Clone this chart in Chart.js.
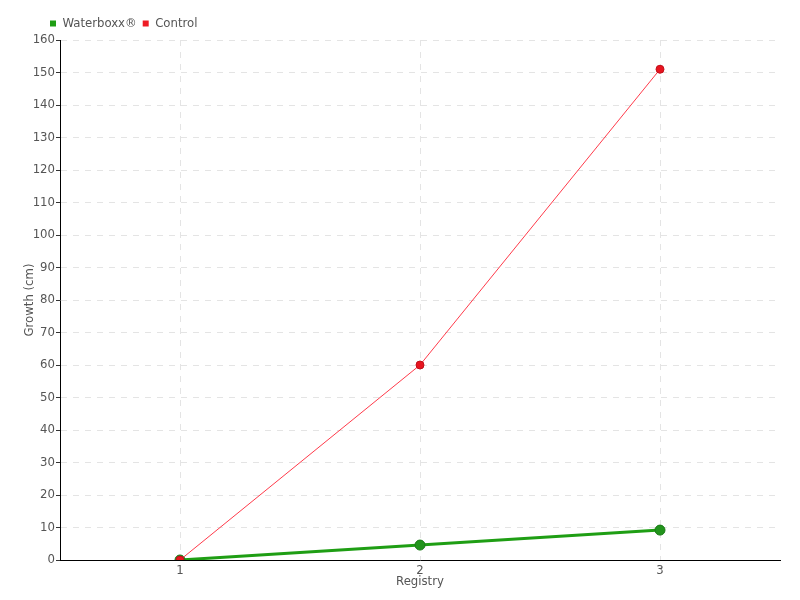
<!DOCTYPE html>
<html><head><meta charset="utf-8">
<script src="https://cdn.jsdelivr.net/npm/chart.js@4/dist/chart.umd.min.js"></script>
<style>html,body{margin:0;padding:0;background:#fff}#wrap{width:800px;height:600px}</style>
</head><body><div id="wrap"><canvas id="c" width="800" height="600"></canvas></div>
<script>
const categories = ["1", "2", "3"];
const waterboxx = [0, 4.6, 9.2];
const control = [0, 60, 151];
const yTicksMax = 160;
const yTitle = "Growth (cm)";
const xTitle = "Registry";

const FONT = "'DejaVu Sans Condensed', 'DejaVu Sans', sans-serif";
const F = { family: FONT, size: 13, weight: 'normal' };
const legendShift = {
  id: 'legendShift',
  afterLayout(chart) { if (chart.legend) { chart.legend.left = 44; } }
};

new Chart(document.getElementById('c'), {
  type: 'line',
  data: {
    labels: categories,
    datasets: [
      { label: 'Waterboxx®', data: waterboxx, borderColor: '#1f9e14', backgroundColor: '#1f9e14',
        borderWidth: 3, pointRadius: 5, pointBackgroundColor: '#22941c', pointBorderColor: '#1a7a16',
        pointBorderWidth: 1, tension: 0, order: 2 },
      { label: 'Control', data: control, borderColor: '#ff3a4a', backgroundColor: '#ee1c25',
        borderWidth: 1, pointRadius: 4, pointBackgroundColor: '#e8141f', pointBorderColor: '#c0101a',
        pointBorderWidth: 1, tension: 0, order: 1 }
    ]
  },
  plugins: [legendShift],
  options: {
    responsive: false, animation: false,
    layout: { padding: { top: 11, right: 20, left: 0, bottom: 0 } },
    plugins: {
      legend: { position: 'top', align: 'start',
        labels: { boxWidth: 6, boxHeight: 6, padding: 6, color: '#555', font: F,
          sort: (a, b) => a.datasetIndex - b.datasetIndex,
          generateLabels(chart) {
            const items = Chart.defaults.plugins.legend.labels.generateLabels(chart);
            items.forEach(it => { it.lineWidth = 0; it.strokeStyle = it.fillStyle; });
            return items;
          } } },
      tooltip: { enabled: false }
    },
    scales: {
      x: {
        offset: true,
        grid: { color: '#e4e4e4', drawTicks: false, offset: false },
        border: { color: '#000', width: 1, dash: [6, 6] },
        ticks: { color: '#555', padding: 3, font: F },
        title: { display: true, text: xTitle, color: '#555', font: F, padding: { top: 0, bottom: 11 } },
        afterFit(s) { s.height = 40; }
      },
      y: {
        min: 0, max: yTicksMax,
        grid: { color: '#e4e4e4', tickLength: 4, tickColor: '#333', tickBorderDash: [], tickWidth: 1 },
        border: { color: '#000', width: 1, dash: [6, 6] },
        ticks: { stepSize: 10, color: '#555', padding: 1, font: F },
        title: { display: true, text: yTitle, color: '#555', font: F, padding: { top: 22, bottom: 0 } },
        afterFit(s) { s.width = 60; }
      }
    }
  }
});
</script></body></html>
